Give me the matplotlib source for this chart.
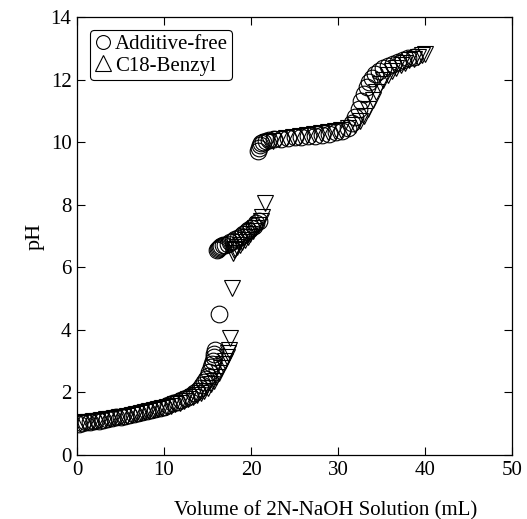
import matplotlib
matplotlib.use("Agg")
import matplotlib.pyplot as plt
from matplotlib.lines import Line2D

# Additive-free (circles)
af_x = [0.2, 0.6, 1.0, 1.5, 2.0, 2.5, 3.0, 3.5, 4.0, 4.5, 5.0, 5.5, 6.0, 6.5, 7.0, 7.5, 8.0, 8.5,
        9.0, 9.5, 10.0, 10.5, 11.0, 11.5, 12.0, 12.5, 13.0, 13.4, 13.8, 14.1, 14.4, 14.6, 14.8,
        15.0, 15.2, 15.4, 15.5, 15.6, 15.7, 15.8, 15.9,
        16.3,
        16.1, 16.2, 16.3, 16.4, 16.6, 16.8, 17.0, 17.3, 17.6, 17.9, 18.2, 18.5, 18.8, 19.1, 19.4,
        19.7, 20.0, 20.3, 20.6, 20.9,
        20.8, 20.9, 21.0, 21.2, 21.4, 21.7, 22.1, 22.7, 23.4, 24.2, 25.0, 25.8, 26.6, 27.4, 28.2,
        29.0, 29.8, 30.5, 31.1, 31.6, 32.0, 32.4, 32.7, 33.0, 33.3, 33.6, 33.9, 34.3, 34.7, 35.2,
        35.7, 36.3, 36.9, 37.5, 38.1, 38.7]
af_ph = [1.00, 1.02, 1.04, 1.06, 1.08, 1.10, 1.13, 1.15, 1.17, 1.20, 1.22, 1.25, 1.28, 1.31, 1.34,
         1.37, 1.40, 1.44, 1.47, 1.51, 1.55, 1.60, 1.65, 1.70, 1.76, 1.83, 1.90, 1.98, 2.06, 2.14,
         2.24, 2.32, 2.42, 2.53, 2.65, 2.80, 2.90, 3.00, 3.12, 3.24, 3.35,
         4.50,
         6.55, 6.58, 6.62, 6.65, 6.68, 6.70, 6.72, 6.75, 6.80, 6.85, 6.90, 6.95, 7.00, 7.06, 7.12,
         7.18, 7.25, 7.32, 7.40, 7.48,
         9.72, 9.82, 9.90, 9.96, 10.00, 10.04, 10.06, 10.09, 10.11, 10.13, 10.15, 10.17, 10.19,
         10.21, 10.24, 10.27, 10.31, 10.37, 10.45, 10.60, 10.80, 11.05, 11.30, 11.55, 11.75,
         11.92, 12.05, 12.18, 12.28, 12.36, 12.43, 12.50, 12.56, 12.62, 12.68, 12.73]

# C18-Benzyl (triangles)
cb_x = [0.3, 0.8, 1.3, 1.8, 2.3, 2.8, 3.3, 3.8, 4.3, 4.8, 5.3, 5.8, 6.3, 6.8, 7.3, 7.8, 8.3, 8.8,
        9.3, 9.8, 10.3, 10.8, 11.3, 11.8, 12.3, 12.8, 13.3, 13.8, 14.2, 14.6, 15.0, 15.4, 15.7,
        16.0, 16.3, 16.6, 16.8, 17.0, 17.2, 17.4, 17.5,
        17.6, 17.8,
        17.9, 18.0, 18.2, 18.4, 18.7, 19.0, 19.3, 19.6, 19.9, 20.2, 20.5, 20.8, 21.1, 21.3, 21.6,
        22.0, 22.5, 23.2, 24.0, 24.8, 25.6, 26.4, 27.2, 28.0, 28.8, 29.6, 30.4, 31.2, 31.9, 32.5,
        33.0, 33.5, 34.0, 34.4, 34.8, 35.2, 35.7, 36.2, 36.7, 37.2, 37.7, 38.2, 38.7, 39.2, 39.6,
        40.0]
cb_ph = [1.02, 1.04, 1.06, 1.08, 1.10, 1.12, 1.14, 1.16, 1.19, 1.21, 1.23, 1.26, 1.28, 1.31, 1.34,
         1.37, 1.40, 1.43, 1.46, 1.50, 1.54, 1.58, 1.62, 1.67, 1.72, 1.78, 1.84, 1.91, 1.98, 2.06,
         2.15, 2.26, 2.36, 2.48, 2.62, 2.78, 2.90, 3.02, 3.14, 3.26, 3.36,
         3.75, 5.35,
         6.45, 6.55, 6.60, 6.65, 6.72, 6.80, 6.88, 6.96, 7.05, 7.15, 7.25, 7.36, 7.48, 7.60, 8.05,
         10.00, 10.05, 10.10, 10.13, 10.16, 10.19, 10.22, 10.25, 10.28, 10.31, 10.35, 10.39,
         10.45, 10.55, 10.68, 10.82, 11.05, 11.35, 11.60, 11.85, 12.00, 12.15, 12.27, 12.37,
         12.46, 12.54, 12.61, 12.67, 12.73, 12.78, 12.83]

labels = ["Additive-free", "C18-Benzyl"]
x_ticks = [0, 10, 20, 30, 40, 50]
y_ticks = [0, 2, 4, 6, 8, 10, 12, 14]

plt.rcParams['font.family'] = ['Liberation Serif', 'DejaVu Serif']

fig = plt.figure(figsize=(5.27, 5.19), dpi=100)
ax = fig.add_axes([77 / 527, (519 - 455) / 519, 435 / 527, 438 / 519])

ax.plot(cb_x, cb_ph, linestyle='none', marker='v', markersize=12, markerfacecolor='none',
        markeredgecolor='black', markeredgewidth=0.8)
ax.plot(af_x, af_ph, linestyle='none', marker='o', markersize=12, markerfacecolor='none',
        markeredgecolor='black', markeredgewidth=0.8)

ax.set_xlim(0, 50)
ax.set_ylim(0, 14)
ax.set_xticks(x_ticks)
ax.set_yticks(y_ticks)
ax.tick_params(direction='in', length=6, width=0.8, top=True, right=True, labelsize=15, pad=4)
for s in ax.spines.values():
    s.set_linewidth(0.9)

ax.set_xlabel("Volume of 2N-NaOH Solution (mL)", fontsize=15)
ax.xaxis.set_label_coords(0.572, -0.105)
ax.set_ylabel("pH", fontsize=16)

handles = [Line2D([], [], linestyle='none', marker='o', markersize=10, markerfacecolor='none',
                  markeredgecolor='black', markeredgewidth=0.8),
           Line2D([], [], linestyle='none', marker='^', markersize=11, markerfacecolor='none',
                  markeredgecolor='black', markeredgewidth=0.8)]
leg = ax.legend(handles, labels, loc='upper left', bbox_to_anchor=(0.03, 0.97), fontsize=15,
                handlelength=0.8, handletextpad=0.2, borderpad=0.2, labelspacing=0.1,
                borderaxespad=0.0, fancybox=True, framealpha=1, edgecolor='black')
leg.get_frame().set_linewidth(0.8)

fig.savefig("out.png", dpi=100)
